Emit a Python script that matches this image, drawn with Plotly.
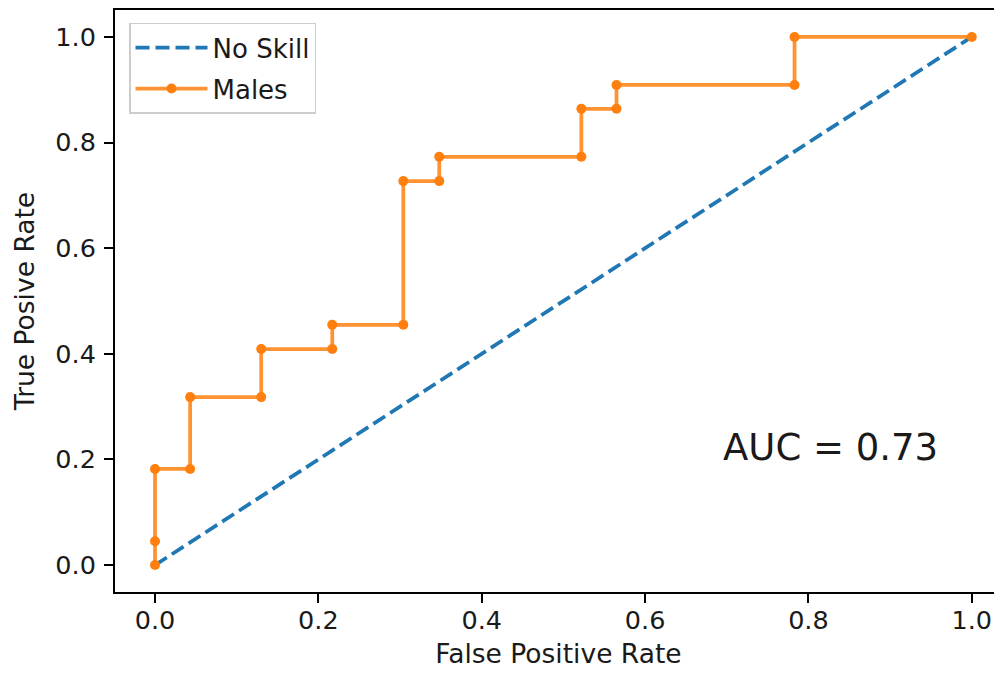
import plotly.graph_objects as go

# Data
no_skill_fpr = [0.0, 1.0]
no_skill_tpr = [0.0, 1.0]

males_fpr = [0.0, 0.0, 0.0, 0.043, 0.043, 0.130, 0.130, 0.217, 0.217, 0.304,
             0.304, 0.348, 0.348, 0.522, 0.522, 0.565, 0.565, 0.783, 0.783, 1.0]
males_tpr = [0.0, 0.045, 0.182, 0.182, 0.318, 0.318, 0.409, 0.409, 0.455, 0.455,
             0.727, 0.727, 0.773, 0.773, 0.864, 0.864, 0.909, 0.909, 1.0, 1.0]

tick_vals = [0.0, 0.2, 0.4, 0.6, 0.8, 1.0]
tick_text = ["0.0", "0.2", "0.4", "0.6", "0.8", "1.0"]

auc_label = "AUC = 0.73"
auc_pos = (0.7, 0.2)

FONT = "DejaVu Sans"
TXT = "#1a1a1a"

fig = go.Figure()
fig.add_trace(go.Scatter(
    x=no_skill_fpr, y=no_skill_tpr, mode="lines", name="No Skill",
    legendgroup="a",
    line=dict(color="#1f77b4", width=3.75, dash="14px,6px"),
))
fig.add_trace(go.Scatter(
    x=males_fpr, y=males_tpr, mode="lines+markers", name="Males",
    legendgroup="b",
    line=dict(color="rgba(255,127,14,0.85)", width=3.75),
    marker=dict(color="#ff7f0e", size=10),
))

fig.add_annotation(
    x=auc_pos[0], y=auc_pos[1], xref="x", yref="y", text=auc_label,
    showarrow=False, xanchor="left", yanchor="bottom", yshift=-12, xshift=-6,
    font=dict(family=FONT, size=37, color=TXT),
)

axis_common = dict(
    showgrid=False, zeroline=False, showline=True, linecolor="black",
    linewidth=2, ticks="outside", ticklen=9, tickwidth=2, tickcolor="black",
    tickvals=tick_vals, ticktext=tick_text, automargin=False,
    tickfont=dict(family=FONT, size=25.5, color=TXT),
)

fig.update_layout(
    width=994, height=661,
    margin=dict(l=107, r=0, t=2, b=77),
    paper_bgcolor="white", plot_bgcolor="white",
    font=dict(family=FONT, size=26.5, color=TXT),
    xaxis=dict(range=[-0.049, 1.037], mirror=True, ticklabelstandoff=-5,
               title=dict(text="False Positive Rate", font=dict(family=FONT, size=26.5, color=TXT), standoff=17),
               **axis_common),
    yaxis=dict(range=[-0.051, 1.051], mirror=False, ticklabelstandoff=3,
               title=dict(text="True Posive Rate", font=dict(family=FONT, size=26.5, color=TXT), standoff=13),
               **axis_common),
    legend=dict(x=0.0158, y=0.978, xanchor="left", yanchor="top",
                bgcolor="rgba(255,255,255,0.8)", bordercolor="#cccccc", borderwidth=1.5,
                itemwidth=72, tracegroupgap=4,
                font=dict(family=FONT, size=26, color=TXT)),
    showlegend=True,
)

fig.write_html("out.html")
